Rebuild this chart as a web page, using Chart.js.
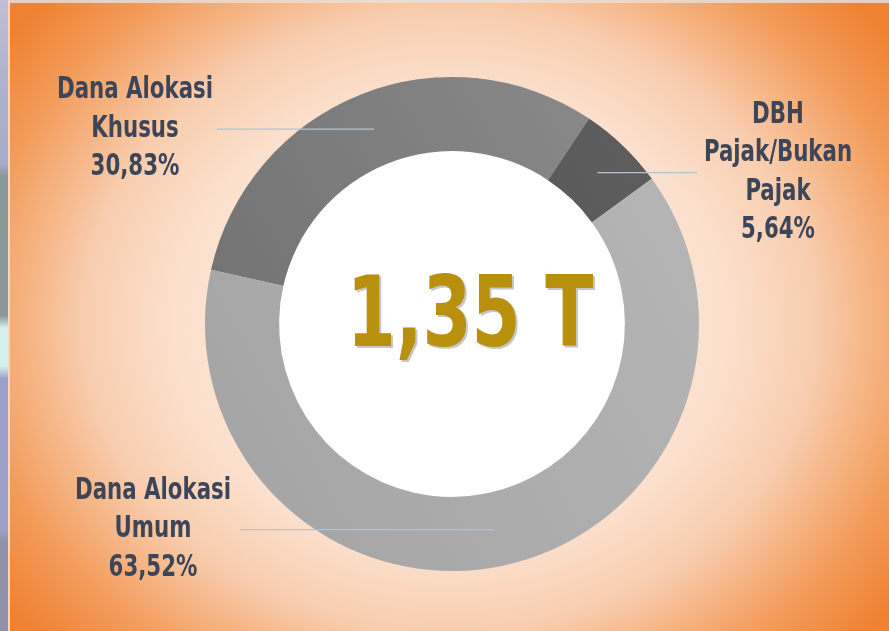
<!DOCTYPE html>
<html>
<head>
<meta charset="utf-8">
<script src="https://cdn.jsdelivr.net/npm/chart.js@4/dist/chart.umd.min.js"></script>
<style>
  html, body { margin: 0; padding: 0; background: #ffffff; }
  #wrap { position: relative; width: 889px; height: 631px; }
  canvas { display: block; }
</style>
</head>
<body>
<div id="wrap"><canvas id="c" width="889" height="631"></canvas></div>
<script>
// ---- data ----
const categories = ['Dana Alokasi Khusus', 'DBH Pajak/Bukan Pajak', 'Dana Alokasi Umum'];
const labelLines = [
  ['Dana Alokasi', 'Khusus'],
  ['DBH', 'Pajak/Bukan', 'Pajak'],
  ['Dana Alokasi', 'Umum']
];
const shares = [30.83, 5.64, 63.52];
const shareTexts = ['30,83%', '5,64%', '63,52%'];
const totalText = '1,35 T';

// ---- style / layout ----
const sliceColorPairs = [['#8c8c8c', '#6e6e6e'], ['#5e5e5e', '#525252'], ['#b6b6b6', '#a4a4a4']];
const labelLayout = [
  { textX: 135, lineX: 217 },
  { textX: 778, lineX: 697 },
  { textX: 153, lineX: 240 }
];
const FONT = '"DejaVu Sans Condensed", "DejaVu Sans", sans-serif';

function narrowText(ctx, text, x, y, sx) {
  ctx.save();
  ctx.translate(x, y);
  ctx.scale(sx, 1);
  ctx.fillText(text, 0, 0);
  ctx.restore();
}

function sliceFill(c) {
  const chart = c.chart;
  const area = chart.chartArea;
  const pair = sliceColorPairs[c.dataIndex];
  if (!area) return pair[0];
  const ctx = chart.ctx;
  const g = ctx.createLinearGradient(area.right, area.top, area.left, area.bottom);
  g.addColorStop(0.2, pair[0]);
  g.addColorStop(0.8, pair[1]);
  return g;
}

const bgPlugin = {
  id: 'bg',
  beforeDraw(chart) {
    const ctx = chart.ctx;
    const W = chart.width, H = chart.height;
    ctx.save();
    const cx = 450, cy = 322;
    ctx.save();
    ctx.translate(cx, cy);
    ctx.scale(1.18, 1);
    const g = ctx.createRadialGradient(0, 0, 0, 0, 0, 470);
    g.addColorStop(0, '#fdf1e8');
    g.addColorStop(0.5, '#fbe0cc');
    g.addColorStop(0.66, '#f8cdae');
    g.addColorStop(0.86, '#f39c5a');
    g.addColorStop(1, '#ef8232');
    ctx.fillStyle = g;
    ctx.fillRect(-cx / 1.18 - 10, -cy - 10, W / 1.18 + 20, H + 20);
    ctx.restore();
    ctx.fillStyle = 'rgba(232,224,220,0.8)';
    ctx.fillRect(0, 0, W, 3);
    const s = ctx.createLinearGradient(0, 0, 0, H);
    s.addColorStop(0, '#c2bed6');
    s.addColorStop(0.12, '#b0b2cc');
    s.addColorStop(0.26, '#a6acc8');
    s.addColorStop(0.28, '#8a9898');
    s.addColorStop(0.50, '#8a9898');
    s.addColorStop(0.52, '#d8f0ec');
    s.addColorStop(0.58, '#d8f0ec');
    s.addColorStop(0.60, '#9ea0c8');
    s.addColorStop(0.84, '#9ea0c8');
    s.addColorStop(0.86, '#9090a8');
    s.addColorStop(1, '#9090a8');
    ctx.fillStyle = s;
    ctx.fillRect(0, 0, 8, H);
    ctx.fillStyle = '#f6d6c0';
    ctx.fillRect(8, 0, 2, H);
    ctx.restore();
  }
};

const labelPlugin = {
  id: 'labels',
  beforeDatasetsDraw(chart) {
    const meta = chart.getDatasetMeta(0);
    const a = meta.data[0];
    const ctx = chart.ctx;
    ctx.save();
    ctx.fillStyle = '#ffffff';
    ctx.beginPath();
    ctx.arc(a.x, a.y, a.innerRadius + 1, 0, Math.PI * 2);
    ctx.fill();
    ctx.restore();
  },
  afterDatasetsDraw(chart) {
    const ctx = chart.ctx;
    const meta = chart.getDatasetMeta(0);
    ctx.save();
    meta.data.forEach((arc, i) => {
      const p = arc.tooltipPosition();
      const lay = labelLayout[i];
      ctx.strokeStyle = '#b6c2d0';
      ctx.lineWidth = 1.3;
      ctx.beginPath();
      ctx.moveTo(lay.lineX, p.y);
      ctx.lineTo(p.x, p.y);
      ctx.stroke();
      const lines = labelLines[i].concat([shareTexts[i]]);
      const lh = 38.5;
      const top = p.y - (lines.length - 1) * lh / 2;
      ctx.font = 'bold 30px ' + FONT;
      ctx.fillStyle = '#3c4658';
      ctx.textAlign = 'center';
      ctx.textBaseline = 'middle';
      lines.forEach((t, k) => narrowText(ctx, t, lay.textX, top + k * lh, 0.79));
    });
    const a = meta.data[0];
    ctx.font = 'bold 98px ' + FONT;
    ctx.textAlign = 'center';
    ctx.textBaseline = 'middle';
    const tx = a.x + 18, ty = a.y - 3;
    ctx.fillStyle = 'rgba(130,130,140,0.45)';
    narrowText(ctx, totalText, tx + 2, ty + 2, 0.8);
    ctx.fillStyle = '#b8900c';
    narrowText(ctx, totalText, tx, ty, 0.8);
    ctx.restore();
  }
};

new Chart(document.getElementById('c'), {
  type: 'doughnut',
  data: {
    labels: categories,
    datasets: [{
      data: shares,
      backgroundColor: sliceFill,
      borderWidth: 0
    }]
  },
  options: {
    responsive: false,
    animation: false,
    rotation: -77.3,
    cutout: '70%',
    layout: { padding: { top: 77, bottom: 60, left: 15, right: 0 } },
    plugins: { legend: { display: false }, tooltip: { enabled: false } }
  },
  plugins: [bgPlugin, labelPlugin]
});
</script>
</body>
</html>
